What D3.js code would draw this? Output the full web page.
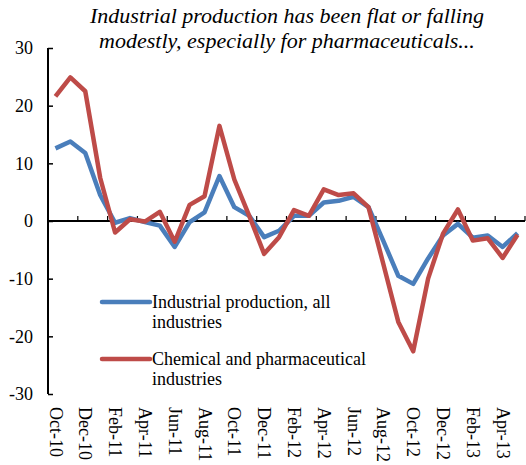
<!DOCTYPE html>
<html>
<head>
<meta charset="utf-8">
<script src="https://cdn.jsdelivr.net/npm/d3@7"></script>
<style>
  html, body { margin: 0; padding: 0; background: #fff; }
  svg { display: block; }
  svg text { font-family: "Liberation Serif", "DejaVu Serif", serif; }
</style>
</head>
<body>
<svg id="chart" width="526" height="465"></svg>
<script>
const months = ["Oct-10","Nov-10","Dec-10","Jan-11","Feb-11","Mar-11","Apr-11","May-11","Jun-11","Jul-11","Aug-11","Sep-11",
  "Oct-11","Nov-11","Dec-11","Jan-12","Feb-12","Mar-12","Apr-12","May-12","Jun-12","Jul-12","Aug-12","Sep-12",
  "Oct-12","Nov-12","Dec-12","Jan-13","Feb-13","Mar-13","Apr-13","May-13"];
const industrialAll = [12.6, 13.8, 11.8, 4.5, -0.3, 0.5, -0.2, -0.8, -4.5, -0.2, 1.5, 7.8,
  2.4, 0.9, -2.8, -1.7, 0.9, 0.9, 3.2, 3.5, 4.2, 2.4, -3.5, -9.5,
  -10.9, -6.5, -2.5, -0.5, -2.9, -2.5, -4.5, -2.1];
const chemPharma = [21.6, 24.9, 22.5, 7.5, -2.0, 0.3, -0.1, 1.6, -3.6, 2.8, 4.3, 16.5,
  7.2, 0.9, -5.7, -2.8, 1.9, 0.9, 5.5, 4.5, 4.8, 2.4, -7.5, -17.5,
  -22.6, -10.0, -2.2, 2.0, -3.4, -3.0, -6.4, -2.4];
const yTicks = [30, 20, 10, 0, -10, -20, -30];
const titleLines = ["Industrial production has been flat or falling", "modestly, especially for pharmaceuticals..."];
const legendItems = [
  {lines: ["Industrial production, all", "industries"], color: "#4a7ebb"},
  {lines: ["Chemical and pharmaceutical", "industries"], color: "#be4b48"}
];

(function () {
const FONT = "Liberation Serif, DejaVu Serif, serif";
const svg = d3.select("#chart");
const mLeft = 48, mRight = 525, mTop = 48, mBottom = 394;

const x = d3.scaleBand().domain(months).range([mLeft, mRight]).paddingInner(0).paddingOuter(0);
const y = d3.scaleLinear().domain([-30, 30]).range([mBottom, mTop]);
const cx = m => x(m) + x.bandwidth() / 2;

// Title
svg.append("g").selectAll("text").data(titleLines).join("text")
  .attr("x", 287).attr("y", (d, i) => 23 + i * 25)
  .attr("text-anchor", "middle")
  .attr("font-family", FONT)
  .attr("font-style", "italic")
  .attr("font-size", 22)
  .attr("fill", "#000")
  .text(d => d);

// Y axis
const yAxis = d3.axisLeft(y).tickValues(yTicks).tickSize(-5).tickPadding(15).tickFormat(d => String(d));
const yg = svg.append("g").attr("transform", `translate(${mLeft},0)`).call(yAxis);
yg.attr("font-family", FONT);
yg.select(".domain").attr("stroke", "#000").attr("stroke-width", 2).attr("d", `M0,${mTop}V${mBottom}`);
yg.selectAll(".tick line").attr("stroke", "#000").attr("stroke-width", 1.5);
yg.selectAll(".tick text").attr("font-size", 18).attr("font-family", FONT).attr("fill", "#000");

// Zero line with category-boundary ticks every 2 months
const zeroY = y(0);
svg.append("line").attr("x1", mLeft).attr("x2", mRight).attr("y1", zeroY).attr("y2", zeroY)
  .attr("stroke", "#000").attr("stroke-width", 2);
const boundaryIdx = d3.range(2, months.length + 1, 2);
svg.append("g").selectAll("line").data(boundaryIdx).join("line")
  .attr("x1", i => mLeft + i * x.bandwidth()).attr("x2", i => mLeft + i * x.bandwidth())
  .attr("y1", zeroY).attr("y2", zeroY - 5)
  .attr("stroke", "#000").attr("stroke-width", 1.2);

// X labels (every other month), rotated
const labelMonths = months.filter((m, i) => i % 2 === 0);
svg.append("g").selectAll("text").data(labelMonths).join("text")
  .attr("transform", m => `translate(${cx(m)},407) rotate(90)`)
  .attr("dy", "0.33em")
  .attr("text-anchor", "start")
  .attr("font-family", FONT)
  .attr("font-size", 18)
  .attr("fill", "#000")
  .text(m => m);

// Lines
const line = d3.line().x((d, i) => cx(months[i])).y(d => y(d));
[[industrialAll, "#4a7ebb"], [chemPharma, "#be4b48"]].forEach(([data, color]) => {
  svg.append("path").datum(data)
    .attr("d", line)
    .attr("fill", "none")
    .attr("stroke", color)
    .attr("stroke-width", 4.5)
    .attr("stroke-linejoin", "round")
    .attr("stroke-linecap", "butt");
});

// Legend
const lg = svg.append("g");
legendItems.forEach((item, k) => {
  const ly = 302 + k * 57;
  lg.append("line").attr("x1", 102).attr("x2", 150).attr("y1", ly).attr("y2", ly)
    .attr("stroke", item.color).attr("stroke-width", 4.5).attr("stroke-linecap", "round");
  lg.append("g").selectAll("text").data(item.lines).join("text")
    .attr("x", 152).attr("y", (d, i) => ly + 6 + i * 20)
    .attr("font-family", FONT)
    .attr("font-size", 18).attr("fill", "#000")
    .text(d => d);
});
})();
</script>
</body>
</html>
